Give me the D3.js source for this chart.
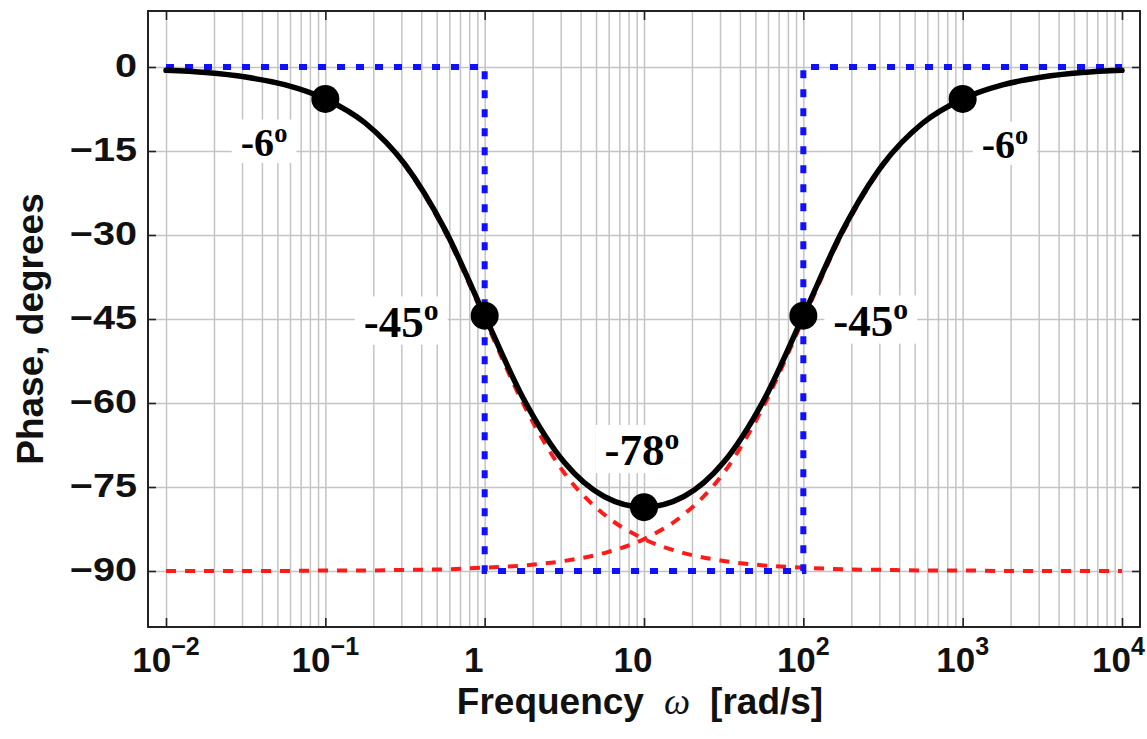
<!DOCTYPE html>
<html>
<head>
<meta charset="utf-8">
<script src="https://cdn.jsdelivr.net/npm/d3@7"></script>
<style>
  html, body { margin: 0; padding: 0; background: #fff; }
  svg { display: block; }
</style>
</head>
<body>
<svg id="chart" width="1147" height="739"></svg>
<script>
// ---------------- DATA ----------------
// sample frequencies (rad/s), four per decade
const freq = [0.01, 0.0178, 0.0316, 0.0562, 0.1, 0.178, 0.316, 0.562,
              1, 1.78, 3.16, 5.62, 10, 17.8, 31.6, 56.2,
              100, 178, 316, 562, 1000, 1780, 3160, 5620, 10000];
// total phase (black curve), degrees
const phaseTotal = [-0.6, -1.0, -1.8, -3.2, -5.7, -10.0, -17.4, -29.0,
                    -44.4, -59.6, -70.6, -76.7, -78.6, -76.7, -70.6, -59.6,
                    -44.4, -29.0, -17.4, -10.0, -5.7, -3.2, -1.8, -1.0, -0.6];
// red dashed component falling from 0 to -90
const phaseFall = [-0.6, -1.0, -1.8, -3.2, -5.7, -10.1, -17.6, -29.4,
                   -45.0, -60.6, -72.5, -79.9, -84.3, -86.8, -88.2, -89.0,
                   -89.4, -89.7, -89.8, -89.9, -89.9, -90.0, -90.0, -90.0, -90.0];
// red dashed component rising from -90 to 0
const phaseRise = [-90.0, -90.0, -90.0, -90.0, -89.9, -89.9, -89.8, -89.7,
                   -89.4, -89.0, -88.2, -86.8, -84.3, -79.9, -72.5, -60.6,
                   -45.0, -29.4, -17.6, -10.1, -5.7, -3.2, -1.8, -1.0, -0.6];
// blue dotted straight-line asymptote
const asymFreq  = [0.01, 1, 1, 100, 100, 10000];
const asymPhase = [0, 0, -90, -90, 0, 0];
// marked points
const markerFreq  = [0.1, 1, 10, 100, 1000];
const markerPhase = [-5.7, -44.4, -78.6, -44.4, -5.7];
const markerLabel = ["-6", "-45", "-78", "-45", "-6"];
// ticks
const xTickValues = [0.01, 0.1, 1, 10, 100, 1000, 10000];
const xTickBase   = ["10", "10", "1", "10", "10", "10", "10"];
const xTickExp    = ["\u22122", "\u22121", "", "", "2", "3", "4"];
const yTickValues = [0, -15, -30, -45, -60, -75, -90];
const yTickLabels = ["0", "\u221215", "\u221230", "\u221245", "\u221260", "\u221275", "\u221290"];
const xTitle = ["Frequency", "\u03C9", "[rad/s]"];
const yTitle = "Phase, degrees";

// ---------------- LAYOUT / STYLE ----------------
const L = 148, R = 1140, T = 11, B = 627;
const SANS = "'Liberation Sans', Arial, Helvetica, sans-serif";
const SERIF = "'Liberation Serif', 'Times New Roman', serif";
const GRID = "#c4c4c4";

const svg = d3.select("#chart");
svg.append("rect").attr("width", 1147).attr("height", 739).attr("fill", "#fff");

const x = d3.scaleLog().domain([Math.pow(10, -2.113), Math.pow(10, 4.113)]).range([L, R]);
const y = d3.scaleLinear().domain([-100, 10]).range([B, T]);

// grid values: 1..9 x 10^k
const gridX = [];
for (let k = -2; k <= 3; k++) for (let m = 1; m <= 9; m++) gridX.push(m * Math.pow(10, k));
gridX.push(10000);

// vertical grid
svg.append("g").attr("transform", `translate(0,${B})`)
  .call(d3.axisBottom(x).tickValues(gridX).tickSize(-(B - T)).tickFormat(""))
  .call(g => g.select(".domain").remove())
  .call(g => g.selectAll("line").attr("stroke", GRID).attr("stroke-width", 1.5));
// horizontal grid
svg.append("g").attr("transform", `translate(${L},0)`)
  .call(d3.axisLeft(y).tickValues(yTickValues).tickSize(-(R - L)).tickFormat(""))
  .call(g => g.select(".domain").remove())
  .call(g => g.selectAll("line").attr("stroke", GRID).attr("stroke-width", 1.5));

// frame ticks (inward)
function styleTicks(g) {
  g.select(".domain").remove();
  g.selectAll("line").attr("stroke", "#222").attr("stroke-width", 1.6);
}
svg.append("g").attr("transform", `translate(0,${B})`)
  .call(d3.axisBottom(x).tickValues(xTickValues).tickSize(-9).tickFormat("")).call(styleTicks);
svg.append("g").attr("transform", `translate(0,${T})`)
  .call(d3.axisTop(x).tickValues(xTickValues).tickSize(-9).tickFormat("")).call(styleTicks);
svg.append("g").attr("transform", `translate(${L},0)`)
  .call(d3.axisLeft(y).tickValues(yTickValues).tickSize(-8).tickFormat("")).call(styleTicks);
svg.append("g").attr("transform", `translate(${R},0)`)
  .call(d3.axisRight(y).tickValues(yTickValues).tickSize(-8).tickFormat("")).call(styleTicks);

// frame
svg.append("rect").attr("x", L).attr("y", T).attr("width", R - L).attr("height", B - T)
  .attr("fill", "none").attr("stroke", "#222").attr("stroke-width", 2);

// y tick labels (slightly wide bold sans)
yTickValues.forEach((v, i) => {
  svg.append("g").attr("transform", `translate(137,${y(v) + 10}) scale(1.2,1)`)
    .append("text").attr("text-anchor", "end")
    .attr("font-family", SANS).attr("font-weight", "bold").attr("font-size", 33)
    .attr("fill", "#111").text(yTickLabels[i]);
});

// x tick labels with superscript exponents
xTickValues.forEach((v, i) => {
  const t = svg.append("text")
    .attr("x", x(v) - (xTickExp[i] === "" ? 11 : 0)).attr("y", 672)
    .attr("text-anchor", "middle")
    .attr("font-family", SANS).attr("font-weight", "bold").attr("font-size", 35)
    .attr("fill", "#111");
  t.append("tspan").text(xTickBase[i]);
  if (xTickExp[i] !== "") {
    t.append("tspan").attr("font-size", 25).attr("dy", -17).text(xTickExp[i]);
  }
  // keep the label inside the picture
  const bb = t.node().getBBox();
  const over = bb.x + bb.width - 1145;
  if (over > 0) t.attr("x", +t.attr("x") - over);
});

// axis titles
const xt = svg.append("text").attr("x", 640).attr("y", 714).attr("text-anchor", "middle")
  .attr("font-family", SANS).attr("font-weight", "bold").attr("font-size", 37).attr("fill", "#111");
xt.append("tspan").text(xTitle[0]);
xt.append("tspan").attr("dx", 20).attr("font-family", SERIF).attr("font-style", "italic")
  .attr("font-weight", "normal").text(xTitle[1]);
xt.append("tspan").attr("dx", 20).text(xTitle[2]);

svg.append("text").attr("transform", `translate(43,329) rotate(-90)`)
  .attr("text-anchor", "middle")
  .attr("font-family", SANS).attr("font-weight", "bold").attr("font-size", 37).attr("fill", "#111")
  .text(yTitle);

// ---------------- CURVES ----------------
const plot = svg.append("g");
const lineXY = d3.line().x(d => x(d[0])).y(d => y(d[1])).curve(d3.curveMonotoneX);
const straight = d3.line().x(d => x(d[0])).y(d => y(d[1]));

plot.append("path").datum(d3.zip(freq, phaseFall)).attr("d", lineXY)
  .attr("fill", "none").attr("stroke", "#ff1a1a").attr("stroke-width", 4)
  .attr("stroke-dasharray", "10,9");
plot.append("path").datum(d3.zip(freq, phaseRise)).attr("d", lineXY)
  .attr("fill", "none").attr("stroke", "#ff1a1a").attr("stroke-width", 4)
  .attr("stroke-dasharray", "10,9");
plot.append("path").datum(d3.zip(asymFreq, asymPhase)).attr("d", straight)
  .attr("fill", "none").attr("stroke", "#1010ff").attr("stroke-width", 6)
  .attr("stroke-dasharray", "8,11");
plot.append("path").datum(d3.zip(freq, phaseTotal)).attr("d", lineXY)
  .attr("fill", "none").attr("stroke", "#000").attr("stroke-width", 5.5)
  .attr("stroke-linecap", "round");

// markers
plot.selectAll("circle.mk").data(d3.zip(markerFreq, markerPhase)).join("circle")
  .attr("class", "mk").attr("cx", d => x(d[0])).attr("cy", d => y(d[1])).attr("r", 14)
  .attr("fill", "#000");

// ---------------- LABELS ----------------
const labelStyle = [
  { dx: -38, dy: 57, anchor: "end", size: 40 },
  { dx: -46, dy: 21, anchor: "end", size: 45 },
  { dx: -2, dy: -42, anchor: "middle", size: 45 },
  { dx: 30, dy: 20, anchor: "start", size: 45 },
  { dx: 19, dy: 59, anchor: "start", size: 40 }
];
markerLabel.forEach((lab, i) => {
  const s = labelStyle[i];
  const g = svg.append("g");
  const bg = g.append("rect").attr("fill", "#fff");
  const t = g.append("text")
    .attr("x", x(markerFreq[i]) + s.dx).attr("y", y(markerPhase[i]) + s.dy)
    .attr("text-anchor", s.anchor)
    .attr("font-family", SERIF).attr("font-weight", "bold").attr("font-size", s.size)
    .attr("fill", "#000");
  t.append("tspan").text(lab);
  t.append("tspan").attr("font-size", s.size * 0.66).attr("dy", -s.size * 0.36).text("o");
  const bb = t.node().getBBox();
  bg.attr("x", bb.x - 9).attr("y", bb.y + 2).attr("width", bb.width + 18).attr("height", bb.height - 4);
});
</script>
</body>
</html>
